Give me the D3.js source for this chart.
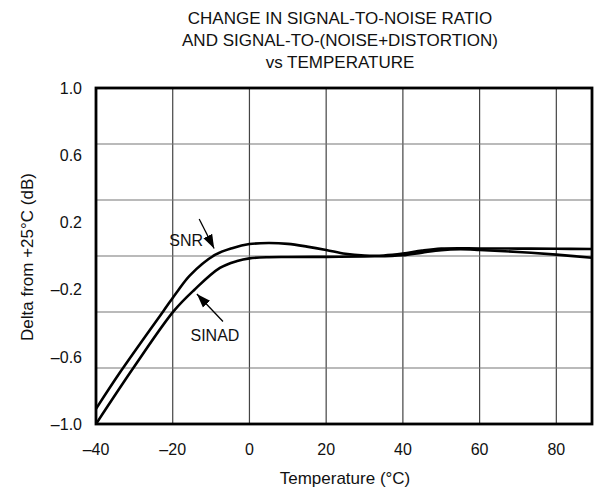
<!DOCTYPE html>
<html>
<head>
<meta charset="utf-8">
<script src="https://cdn.jsdelivr.net/npm/d3@7"></script>
<style>
  body { margin: 0; background: #fff; }
  text { font-family: "Liberation Sans", Arial, sans-serif; fill: #111; }
</style>
</head>
<body>
<svg width="597" height="494"></svg>
<script>
const titleLines = ['CHANGE IN SIGNAL-TO-NOISE RATIO', 'AND SIGNAL-TO-(NOISE+DISTORTION)', 'vs TEMPERATURE'];
const xTicks = [-40, -20, 0, 20, 40, 60, 80];
const yTicks = [1.0, 0.6, 0.2, -0.2, -0.6, -1.0];
const yGrid = [2 / 3, 1 / 3, 0, -1 / 3, -2 / 3];

const snrTemp = [-40, -33.5, -22.5, -18.6, -15.5, -9, -4.3, 0, 5, 10, 15, 20, 25, 30, 35, 40, 45, 50, 60, 70, 80, 89.3];
const snrVal = [-0.91, -0.685, -0.33, -0.205, -0.115, 0.006, 0.048, 0.071, 0.077, 0.072, 0.056, 0.036, 0.013, 0.003, 0.003, 0.014, 0.032, 0.044, 0.045, 0.044, 0.043, 0.042];

const sinadTemp = [-40, -30.1, -19.7, -14.4, -7.7, -3.2, 0, 5, 10, 20, 30, 37, 40, 45, 50, 55, 60, 70, 80, 89.3];
const sinadVal = [-1.0, -0.661, -0.327, -0.202, -0.071, -0.030, -0.014, -0.007, -0.006, -0.005, -0.002, 0.0, 0.004, 0.02, 0.035, 0.04, 0.036, 0.024, 0.008, -0.01];

// labels with arrows, in data units
const notes = [
  { name: 'SNR', at: [-16.5, 0.095], from: [-13.1, 0.22], to: [-9.2, 0.045] },
  { name: 'SINAD', at: [-9.0, -0.47], from: [-6.9, -0.39], to: [-13.7, -0.226] },
];

const svg = d3.select('svg');
const m = { left: 96, right: 592, top: 88, bottom: 424 };

const x = d3.scaleLinear().domain([-40, 89.3]).range([m.left, m.right]);
const y = d3.scaleLinear().domain([-1, 1]).range([m.bottom, m.top]);

const defs = svg.append('defs');
defs.append('clipPath').attr('id', 'plot')
  .append('rect').attr('x', m.left).attr('y', m.top)
  .attr('width', m.right - m.left).attr('height', m.bottom - m.top);

defs.append('marker')
  .attr('id', 'head')
  .attr('viewBox', '0 0 10 10')
  .attr('refX', 10).attr('refY', 5)
  .attr('markerWidth', 14).attr('markerHeight', 14)
  .attr('markerUnits', 'userSpaceOnUse')
  .attr('orient', 'auto')
  .append('path').attr('d', 'M0,1.5L10,5L0,8.5Z').attr('fill', '#000');

// title
svg.append('g').selectAll('text')
  .data(titleLines)
  .enter().append('text')
  .attr('x', 340)
  .attr('y', (d, i) => 24 + i * 22)
  .attr('text-anchor', 'middle')
  .style('font-size', '17px')
  .text(d => d);

// grid
const grid = svg.append('g');
grid.selectAll('line.v')
  .data(xTicks.slice(1))
  .enter().append('line')
  .attr('x1', d => x(d)).attr('x2', d => x(d))
  .attr('y1', m.top).attr('y2', m.bottom)
  .attr('stroke', '#444').attr('stroke-width', 1.2);
grid.selectAll('line.h')
  .data(yGrid)
  .enter().append('line')
  .attr('x1', m.left).attr('x2', m.right)
  .attr('y1', d => y(d)).attr('y2', d => y(d))
  .attr('stroke', '#777').attr('stroke-width', 1.2);

// curves
const line = d3.line()
  .x(d => x(d[0]))
  .y(d => y(d[1]))
  .curve(d3.curveCatmullRom.alpha(0.5));

const curves = svg.append('g').attr('clip-path', 'url(#plot)');
[[snrTemp, snrVal], [sinadTemp, sinadVal]].forEach(([t, v]) => {
  curves.append('path')
    .attr('d', line(d3.zip(t, v)))
    .attr('fill', 'none')
    .attr('stroke', '#000')
    .attr('stroke-width', 2.6)
    .attr('stroke-linejoin', 'round');
});

// frame
svg.append('rect')
  .attr('x', m.left).attr('y', m.top)
  .attr('width', m.right - m.left).attr('height', m.bottom - m.top)
  .attr('fill', 'none').attr('stroke', '#000').attr('stroke-width', 2.8);

// y labels
svg.append('g').selectAll('text')
  .data(yTicks)
  .enter().append('text')
  .attr('x', 82)
  .attr('y', d => y(d))
  .attr('dy', '0.36em')
  .attr('text-anchor', 'end')
  .style('font-size', '16px')
  .text(d => d3.format('.1f')(d).replace('-', '\u2013').replace('\u2212', '\u2013'));

// x labels
svg.append('g').selectAll('text')
  .data(xTicks)
  .enter().append('text')
  .attr('x', d => x(d))
  .attr('y', 455)
  .attr('text-anchor', 'middle')
  .style('font-size', '16px')
  .text(d => String(d).replace('-', '\u2013'));

svg.append('text')
  .attr('x', 345).attr('y', 484)
  .attr('text-anchor', 'middle')
  .style('font-size', '17px')
  .text('Temperature (\u00B0C)');

svg.append('text')
  .attr('transform', 'translate(33,257) rotate(-90)')
  .attr('text-anchor', 'middle')
  .style('font-size', '17px')
  .text('Delta from +25\u00B0C (dB)');

// annotations
const ann = svg.append('g');
notes.forEach((n) => {
  ann.append('text')
    .attr('x', x(n.at[0])).attr('y', y(n.at[1]))
    .attr('dy', '0.36em')
    .attr('text-anchor', 'middle')
    .style('font-size', '16px')
    .text(n.name);
  ann.append('line')
    .attr('x1', x(n.from[0])).attr('y1', y(n.from[1]))
    .attr('x2', x(n.to[0])).attr('y2', y(n.to[1]))
    .attr('stroke', '#000').attr('stroke-width', 1.3)
    .attr('marker-end', 'url(#head)');
});
</script>
</body>
</html>
